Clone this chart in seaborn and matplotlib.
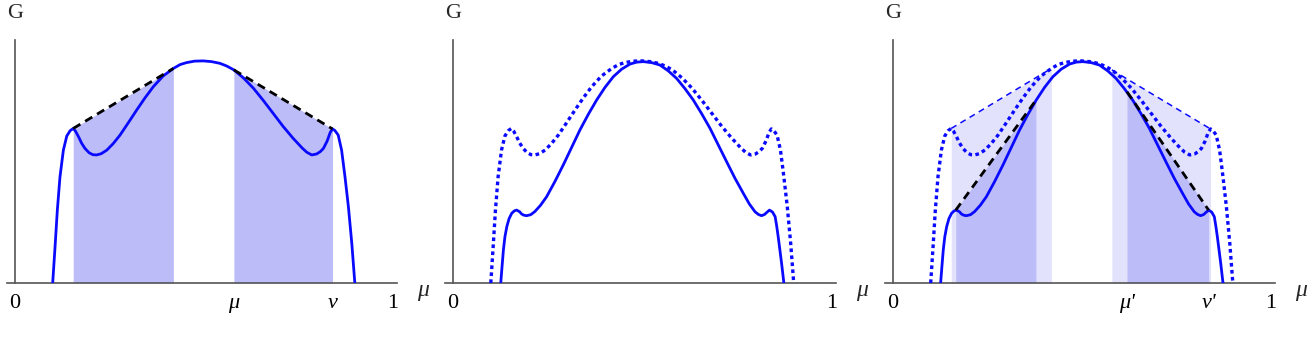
import numpy as np
import pandas as pd
import matplotlib
matplotlib.use("Agg")
import matplotlib.pyplot as plt
import matplotlib.transforms as mtransforms
import seaborn as sns

# ---------------- data ----------------
# curve A : the original free-energy curve (solid in panel 1, dotted in 2 and 3)
mu_A = [0.0997, 0.106, 0.112, 0.119, 0.128, 0.137, 0.146, 0.154, 0.160, 0.168,
        0.176, 0.185, 0.196, 0.206, 0.216, 0.228, 0.243, 0.260, 0.278, 0.300,
        0.322, 0.344, 0.366, 0.392, 0.419, 0.437, 0.454, 0.475, 0.498, 0.520,
        0.542, 0.560, 0.579, 0.605, 0.631, 0.657, 0.683, 0.709, 0.736, 0.760,
        0.772, 0.785, 0.798, 0.808, 0.816, 0.826, 0.834, 0.840, 0.846, 0.855,
        0.864, 0.873, 0.882, 0.891, 0.899]
G_A = [0.000, 0.150, 0.300, 0.437, 0.547, 0.605, 0.627, 0.636, 0.625, 0.602,
       0.576, 0.554, 0.536, 0.528, 0.527, 0.532, 0.547, 0.574, 0.609, 0.660,
       0.712, 0.762, 0.808, 0.852, 0.883, 0.899, 0.907, 0.913, 0.914, 0.911,
       0.904, 0.893, 0.877, 0.843, 0.801, 0.751, 0.698, 0.645, 0.595, 0.555,
       0.538, 0.527, 0.531, 0.541, 0.554, 0.585, 0.620, 0.634, 0.628, 0.609,
       0.547, 0.437, 0.314, 0.163, 0.000]

# curve B : the modified curve (solid in panels 2 and 3)
mu_B = [0.126, 0.129, 0.133, 0.137, 0.142, 0.148, 0.155, 0.162, 0.168, 0.176,
        0.181, 0.187, 0.194, 0.205, 0.216, 0.231, 0.247, 0.269, 0.291, 0.313,
        0.335, 0.357, 0.379, 0.401, 0.423, 0.445, 0.467, 0.485, 0.502, 0.524,
        0.546, 0.568, 0.590, 0.612, 0.634, 0.656, 0.678, 0.700, 0.722, 0.744,
        0.766, 0.782, 0.797, 0.806, 0.814, 0.822, 0.829, 0.835, 0.843, 0.850,
        0.854, 0.858, 0.863, 0.867, 0.873]
G_B = [0.000, 0.060, 0.136, 0.190, 0.232, 0.265, 0.287, 0.297, 0.300, 0.293,
       0.284, 0.279, 0.277, 0.281, 0.294, 0.320, 0.355, 0.418, 0.486, 0.558,
       0.630, 0.694, 0.753, 0.805, 0.849, 0.880, 0.901, 0.909, 0.911, 0.907,
       0.897, 0.873, 0.842, 0.800, 0.753, 0.697, 0.637, 0.568, 0.499, 0.431,
       0.369, 0.325, 0.293, 0.282, 0.277, 0.282, 0.292, 0.300, 0.292, 0.273,
       0.235, 0.191, 0.130, 0.081, 0.000]

# common tangents (end points)
tanA_left_x, tanA_left_y = [0.154, 0.419], [0.636, 0.883]
tanA_right_x, tanA_right_y = [0.579, 0.840], [0.877, 0.634]
tanB_left_x, tanB_left_y = [0.166, 0.378], [0.300, 0.752]
tanB_right_x, tanB_right_y = [0.619, 0.835], [0.787, 0.300]

ticks_1 = [0, 0.579, 0.840, 1]
ticklabels_1 = ["0", "μ", "ν", "1"]
ticks_2 = [0, 1]
ticklabels_2 = ["0", "1"]
ticks_3 = [0, 0.619, 0.835, 1]
ticklabels_3 = ["0", "μ'", "ν'", "1"]

# ---------------- styling ----------------
sns.set_style("white")
plt.rcParams["font.family"] = ["Liberation Serif", "DejaVu Serif"]

BLUE = "#0a0aff"
SHADE = "#bcbcf8"
LIGHT = "#e2e2fc"
AXC = "#555555"

fig = plt.figure(figsize=(13.12, 3.57), dpi=100)
W, H = 1312, 357
x0px = [15, 453, 893]
x1px = [393, 832, 1271]
axes = []
for a, b in zip(x0px, x1px):
    span = b - a
    left = (a - 0.02 * span) / W
    width = 1.03 * span / W
    ax = fig.add_axes([left, (H - 283) / H, width, 243 / H])
    ax.set_xlim(-0.02, 1.01)
    ax.set_ylim(0, 1)
    for s in ["top", "right"]:
        ax.spines[s].set_visible(False)
    ax.spines["left"].set_position(("data", 0))
    ax.spines["left"].set_bounds(0, 1)
    for s in ["left", "bottom"]:
        ax.spines[s].set_color(AXC)
        ax.spines[s].set_linewidth(1.2)
        ax.spines[s].set_zorder(1)
    ax.set_yticks([])
    ax.tick_params(axis="x", direction="in", length=4, width=1, color=AXC,
                   pad=8, labelsize=16, labelcolor="black")
    tr = mtransforms.blended_transform_factory(ax.transData, ax.transAxes)
    ax.text(0, 1.107, "G", ha="center", va="center", fontsize=16, transform=tr)
    ax.text(1.08, -0.03, "μ", ha="center", va="center", fontsize=17,
            fontstyle="italic", transform=tr)
    axes.append(ax)

dfA = pd.DataFrame({"mu": mu_A, "G": G_A})
dfB = pd.DataFrame({"mu": mu_B, "G": G_B})


def line(ax, x, y, **kw):
    sns.lineplot(x=x, y=y, ax=ax, sort=False, estimator=None, **kw)


def set_ticks(ax, t, lab):
    ax.set_xticks(t, lab)
    for l in ax.get_xticklabels():
        if l.get_text() not in ("0", "1"):
            l.set_fontstyle("italic")


# ---- panel 1
ax = axes[0]
ax.fill_between(tanA_left_x, [0, 0], tanA_left_y, color=SHADE, lw=0, zorder=0)
ax.fill_between(tanA_right_x, [0, 0], tanA_right_y, color=SHADE, lw=0, zorder=0)
line(ax, dfA["mu"], dfA["G"], color=BLUE, lw=2.0, zorder=3)
line(ax, tanA_left_x, tanA_left_y, color="black", lw=2.0, dashes=(3, 2), zorder=4)
line(ax, tanA_right_x, tanA_right_y, color="black", lw=2.0, dashes=(3, 2), zorder=4)
set_ticks(ax, ticks_1, ticklabels_1)

# ---- panel 2
ax = axes[1]
line(ax, dfA["mu"], dfA["G"], color=BLUE, lw=2.4, dashes=(1.1, 1.0), zorder=3)
line(ax, dfB["mu"], dfB["G"], color=BLUE, lw=2.0, zorder=3)
set_ticks(ax, ticks_2, ticklabels_2)

# ---- panel 3
ax = axes[2]
ax.fill_between(tanA_left_x, [0, 0], tanA_left_y, color=LIGHT, lw=0, zorder=0)
ax.fill_between(tanA_right_x, [0, 0], tanA_right_y, color=LIGHT, lw=0, zorder=0)
ax.fill_between(tanB_left_x, [0, 0], tanB_left_y, color=SHADE, lw=0, zorder=0.5)
ax.fill_between(tanB_right_x, [0, 0], tanB_right_y, color=SHADE, lw=0, zorder=0.5)
line(ax, tanA_left_x, tanA_left_y, color=BLUE, lw=1.1, dashes=(4, 3), zorder=2)
line(ax, tanA_right_x, tanA_right_y, color=BLUE, lw=1.1, dashes=(4, 3), zorder=2)
line(ax, dfA["mu"], dfA["G"], color=BLUE, lw=2.4, dashes=(1.1, 1.0), zorder=3)
line(ax, dfB["mu"], dfB["G"], color=BLUE, lw=2.0, zorder=3)
line(ax, tanB_left_x, tanB_left_y, color="black", lw=2.0, dashes=(3, 2), zorder=4)
line(ax, tanB_right_x, tanB_right_y, color="black", lw=2.0, dashes=(3, 2), zorder=4)
set_ticks(ax, ticks_3, ticklabels_3)

for ax in axes:
    ax.set_xlabel("")
    ax.set_ylabel("")
    if ax.get_legend() is not None:
        ax.get_legend().remove()

fig.savefig("out.png", dpi=100)
